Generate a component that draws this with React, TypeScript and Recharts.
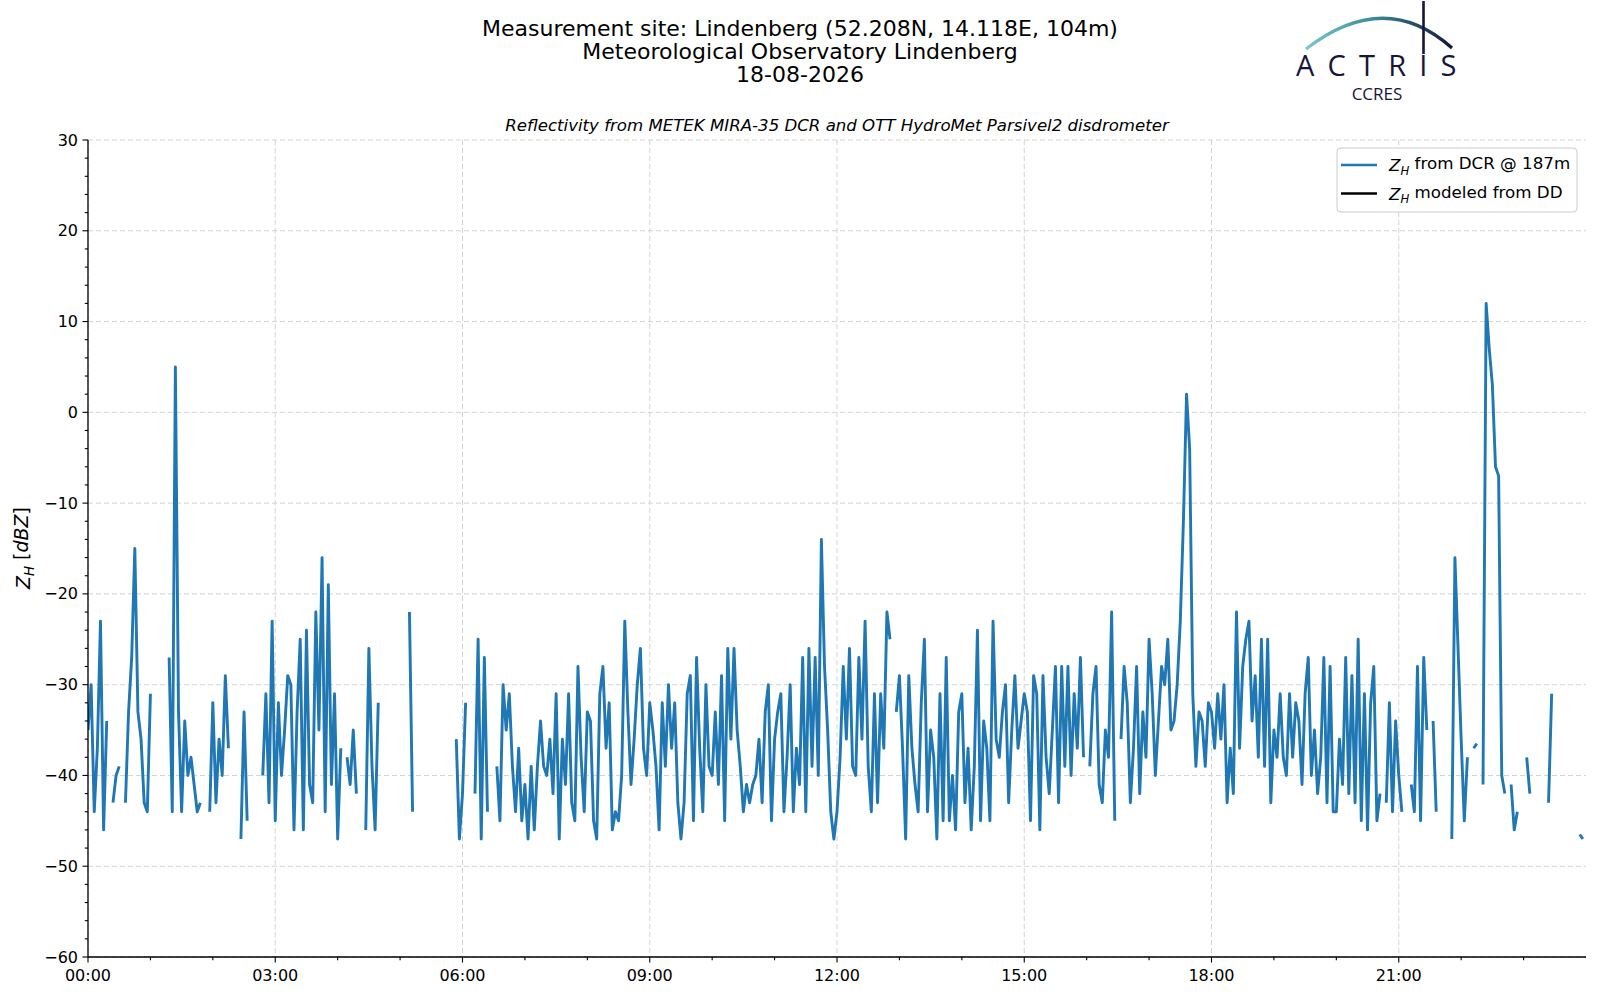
import { CartesianGrid, Line, LineChart, XAxis, YAxis } from "recharts";

const FONT = "'DejaVu Sans', sans-serif";
const BLUE = "#1f77b4";

// reflectivity samples, one every 3 minutes (null = no echo)
const STEP_MIN = 3;

const ZH_00_03 = [
  -35, -30, -44, -37, -23, -46, -34, null, -43, -40, -39, null, -43, -33, -27, -15, -33, -36, -43, -44,
  -31, null, null, null, null, null, -27, -44, 5, -33, -44, -34, -40, -38, -41, -44, -43, null, null, -44,
  -32, -43, -36, -40, -29, -37, null, null, null, -47, -33, -45, null, null, null, null, -40, -31, -43, -23,
];
const ZH_03_06 = [
  -45, -32, -40, -35, -29, -30, -46, -33, -25, -46, -24, -41, -43, -22, -35, -16, -44, -19, -41, -31,
  -47, -37, null, -38, -41, -35, -42, null, null, -46, -26, -39, -46, -32, null, null, null, null, null, null,
  null, null, null, -22, -44, null, null, null, null, null, null, null, null, null, null, null, null, null, -36, -47,
];
const ZH_06_09 = [
  -42, -32, null, null, -42, -25, -47, -27, -44, null, null, -39, -45, -30, -35, -31, -39, -44, -37, -45,
  -41, -47, -39, -46, -39, -34, -39, -40, -36, -42, -31, -47, -36, -41, -31, -43, -45, -28, -38, -44,
  -33, -34, -45, -47, -31, -28, -37, -32, -46, -44, -45, -40, -23, -33, -41, -36, -30, -26, -37, -40,
];
const ZH_09_12 = [
  -32, -35, -39, -46, -32, -39, -30, -37, -32, -43, -47, -43, -31, -29, -45, -27, -37, -44, -30, -39,
  -40, -33, -41, -29, -45, -26, -36, -26, -35, -39, -44, -41, -43, -41, -40, -36, -43, -33, -30, -45,
  -36, -33, -31, -44, -38, -30, -44, -37, -41, -27, -44, -26, -39, -27, -40, -14, -28, -35, -44, -47,
];
const ZH_12_15 = [
  -44, -38, -28, -36, -26, -39, -40, -27, -36, -23, -39, -44, -31, -43, -31, -37, -22, -25, null, -33,
  -29, -37, -47, -29, -37, -41, -44, -32, -25, -44, -35, -38, -47, -31, -45, -27, -45, -40, -46, -33,
  -31, -43, -37, -46, -39, -24, -45, -34, -37, -45, -23, -36, -38, -33, -30, -43, -35, -29, -37, -34,
];
const ZH_15_18 = [
  -31, -33, -45, -29, -31, -46, -29, -38, -42, -35, -28, -43, -28, -39, -28, -40, -31, -37, -27, -38,
  null, -39, -31, -28, -41, -43, -35, -38, -22, -45, null, -36, -28, -32, -43, -37, -28, -42, -33, -38,
  -25, -31, -40, -34, -28, -30, -25, -35, -34, -30, -23, -12, 2, -4, -31, -39, -33, -34, -39, -32,
];
const ZH_18_21 = [
  -33, -37, -31, -36, -30, -43, -37, -42, -22, -37, -28, -25, -23, -34, -29, -38, -25, -39, -25, -43,
  -35, -38, -31, -38, -40, -31, -38, -32, -34, -41, -31, -27, -40, -35, -42, -38, -27, -43, -28, -44,
  -44, -36, -41, -27, -42, -29, -43, -25, -45, -31, -46, -32, -28, -45, -42, null, -43, -32, -44, -34,
];
const ZH_21_24 = [
  -40, -44, null, null, -41, -44, -28, -45, -27, -35, null, -34, -44, null, null, null, null, -47, -16, -26,
  -36, -45, -38, null, -37, -36.5, null, -41, 12, 7, 3, -6, -7, -40, -42, null, -41, -46, -44, null,
  null, -38, -42, null, null, null, null, null, -43, -31, null, null, null, null, null, null, null, null, -46.5, -47,
];

const ZH_DCR = [
  ...ZH_00_03, ...ZH_03_06, ...ZH_06_09, ...ZH_09_12,
  ...ZH_12_15, ...ZH_15_18, ...ZH_18_21, ...ZH_21_24,
];

const HOUR_TICKS = [
  0, 60, 120, 180, 240, 300, 360, 420, 480, 540, 600, 660, 720, 780, 840, 900,
  960, 1020, 1080, 1140, 1200, 1260, 1320, 1380,
];
const X_MAJOR = [0, 180, 360, 540, 720, 900, 1080, 1260];
const X_LABELS = ["00:00", "03:00", "06:00", "09:00", "12:00", "15:00", "18:00", "21:00"];

const Y_TICKS = [
  -60, -58, -56, -54, -52, -50, -48, -46, -44, -42, -40, -38, -36, -34, -32, -30,
  -28, -26, -24, -22, -20, -18, -16, -14, -12, -10, -8, -6, -4, -2, 0, 2, 4, 6, 8,
  10, 12, 14, 16, 18, 20, 22, 24, 26, 28, 30,
];
const Y_MAJOR = [-60, -50, -40, -30, -20, -10, 0, 10, 20, 30];

const SERIES = [
  { key: "dcr", label: "from DCR @ 187m", color: BLUE },
  { key: "dd", label: "modeled from DD", color: "#000000" },
];

const data = ZH_DCR.map((v, i) => ({ t: i * STEP_MIN, dcr: v, dd: null }));

const fmt = (v: number) => (v < 0 ? `\u2212${Math.abs(v)}` : `${v}`);

function XTick(props: any) {
  const { x, y, payload } = props;
  const idx = X_MAJOR.indexOf(payload.value);
  const major = idx >= 0;
  return (
    <g>
      <line x1={x} x2={x} y1={y} y2={y + (major ? 5.5 : 3.2)} stroke="#000" strokeWidth={1.1} />
      {major && (
        <text x={x} y={y + 24} textAnchor="middle" fontSize={16} fontFamily={FONT} fill="#000">
          {X_LABELS[idx]}
        </text>
      )}
    </g>
  );
}

function YTick(props: any) {
  const { x, y, payload } = props;
  const major = Y_MAJOR.includes(payload.value);
  return (
    <g>
      <line x1={x - (major ? 5.5 : 3.2)} x2={x} y1={y} y2={y} stroke="#000" strokeWidth={1.1} />
      {major && (
        <text x={x - 10} y={y + 5.6} textAnchor="end" fontSize={16} fontFamily={FONT} fill="#000">
          {fmt(payload.value)}
        </text>
      )}
    </g>
  );
}

function ZH() {
  return (
    <>
      <tspan fontStyle="italic">Z</tspan>
      <tspan fontStyle="italic" fontSize="0.7em" dy="0.3em">H</tspan>
    </>
  );
}

function Overlay() {
  return (
    <svg
      width={1600}
      height={1000}
      style={{ position: "absolute", left: 0, top: 0, pointerEvents: "none" }}
      fontFamily={FONT}
    >
      <defs>
        <linearGradient id="arc" x1="0" x2="1" y1="0" y2="0">
          <stop offset="0%" stopColor="#7cc8c4" />
          <stop offset="45%" stopColor="#3a8e9c" />
          <stop offset="100%" stopColor="#15163a" />
        </linearGradient>
      </defs>

      <text x={800} y={36} textAnchor="middle" fontSize={22}>
        Measurement site: Lindenberg (52.208N, 14.118E, 104m)
      </text>
      <text x={800} y={59} textAnchor="middle" fontSize={22}>
        Meteorological Observatory Lindenberg
      </text>
      <text x={800} y={82} textAnchor="middle" fontSize={22}>
        18-08-2026
      </text>

      {/* logo */}
      <path d="M 1306 49 Q 1385 -12 1452 48" fill="none" stroke="url(#arc)" strokeWidth={3.2} />
      <line x1={1423.5} x2={1423.5} y1={1} y2={54} stroke="#15163a" strokeWidth={2.6} />
      <text x={1296} y={76} fontSize={29} fontFamily="'Open Sans', sans-serif" letterSpacing={13.2} fill="#15163a">
        ACTRIS
      </text>
      <text x={1377} y={100} textAnchor="middle" fontSize={17} fontFamily="'Open Sans', sans-serif" fill="#15163a">
        CCRES
      </text>

      <text x={837} y={131} textAnchor="middle" fontSize={16.6} fontStyle="italic">
        Reflectivity from METEK MIRA-35 DCR and OTT HydroMet Parsivel2 disdrometer
      </text>

      <text transform="translate(30, 548) rotate(-90)" textAnchor="middle" fontSize={19}>
        <ZH />
        <tspan dy="-0.3em"> [</tspan>
        <tspan fontStyle="italic">dBZ</tspan>
        <tspan>]</tspan>
      </text>

      {/* legend */}
      <rect x={1337} y={148} width={240} height={64} rx={4} fill="#fff" fillOpacity={0.8} stroke="#cccccc" />
      {SERIES.map((s, i) => {
        const cy = 165 + i * 28.5;
        return (
          <g key={s.key}>
            <line x1={1341} x2={1377} y1={cy} y2={cy} stroke={s.color} strokeWidth={2.6} />
            <text x={1389} y={cy + 6} fontSize={16.7}>
              <ZH />
              <tspan dy="-0.3em"> {s.label}</tspan>
            </text>
          </g>
        );
      })}
    </svg>
  );
}

export default function App() {
  const axisLine = { stroke: "#000", strokeWidth: 1.3 };
  return (
    <div style={{ position: "absolute", left: 0, top: 0, width: 1600, height: 1000, background: "#fff" }}>
      <LineChart width={1600} height={1000} data={data} margin={{ top: 140, right: 14, bottom: 0, left: 0 }}>
        <CartesianGrid
          stroke="#d3d3d3"
          strokeDasharray="5 3"
          horizontalValues={Y_MAJOR}
          verticalValues={X_MAJOR}
        />
        <XAxis
          dataKey="t"
          type="number"
          domain={[0, 1440]}
          ticks={HOUR_TICKS}
          interval={0}
          tick={XTick}
          tickLine={false}
          tickSize={0}
          tickMargin={0}
          height={43}
          axisLine={axisLine}
          allowDataOverflow
        />
        <XAxis
          xAxisId="top"
          orientation="top"
          type="number"
          domain={[0, 1440]}
          tick={false}
          tickLine={false}
          height={0}
          axisLine={axisLine}
        />
        <YAxis
          type="number"
          domain={[-60, 30]}
          ticks={Y_TICKS}
          interval={0}
          tick={YTick}
          tickLine={false}
          tickSize={0}
          tickMargin={0}
          width={88}
          axisLine={axisLine}
          allowDataOverflow
        />
        <YAxis
          yAxisId="right"
          orientation="right"
          type="number"
          domain={[-60, 30]}
          tick={false}
          tickLine={false}
          width={0}
          axisLine={axisLine}
        />
        {SERIES.map((s) => (
          <Line
            key={s.key}
            type="linear"
            dataKey={s.key}
            name={s.label}
            stroke={s.color}
            strokeWidth={2.9}
            strokeLinejoin="round"
            dot={false}
            activeDot={false}
            isAnimationActive={false}
          />
        ))}
      </LineChart>
      <Overlay />
    </div>
  );
}
